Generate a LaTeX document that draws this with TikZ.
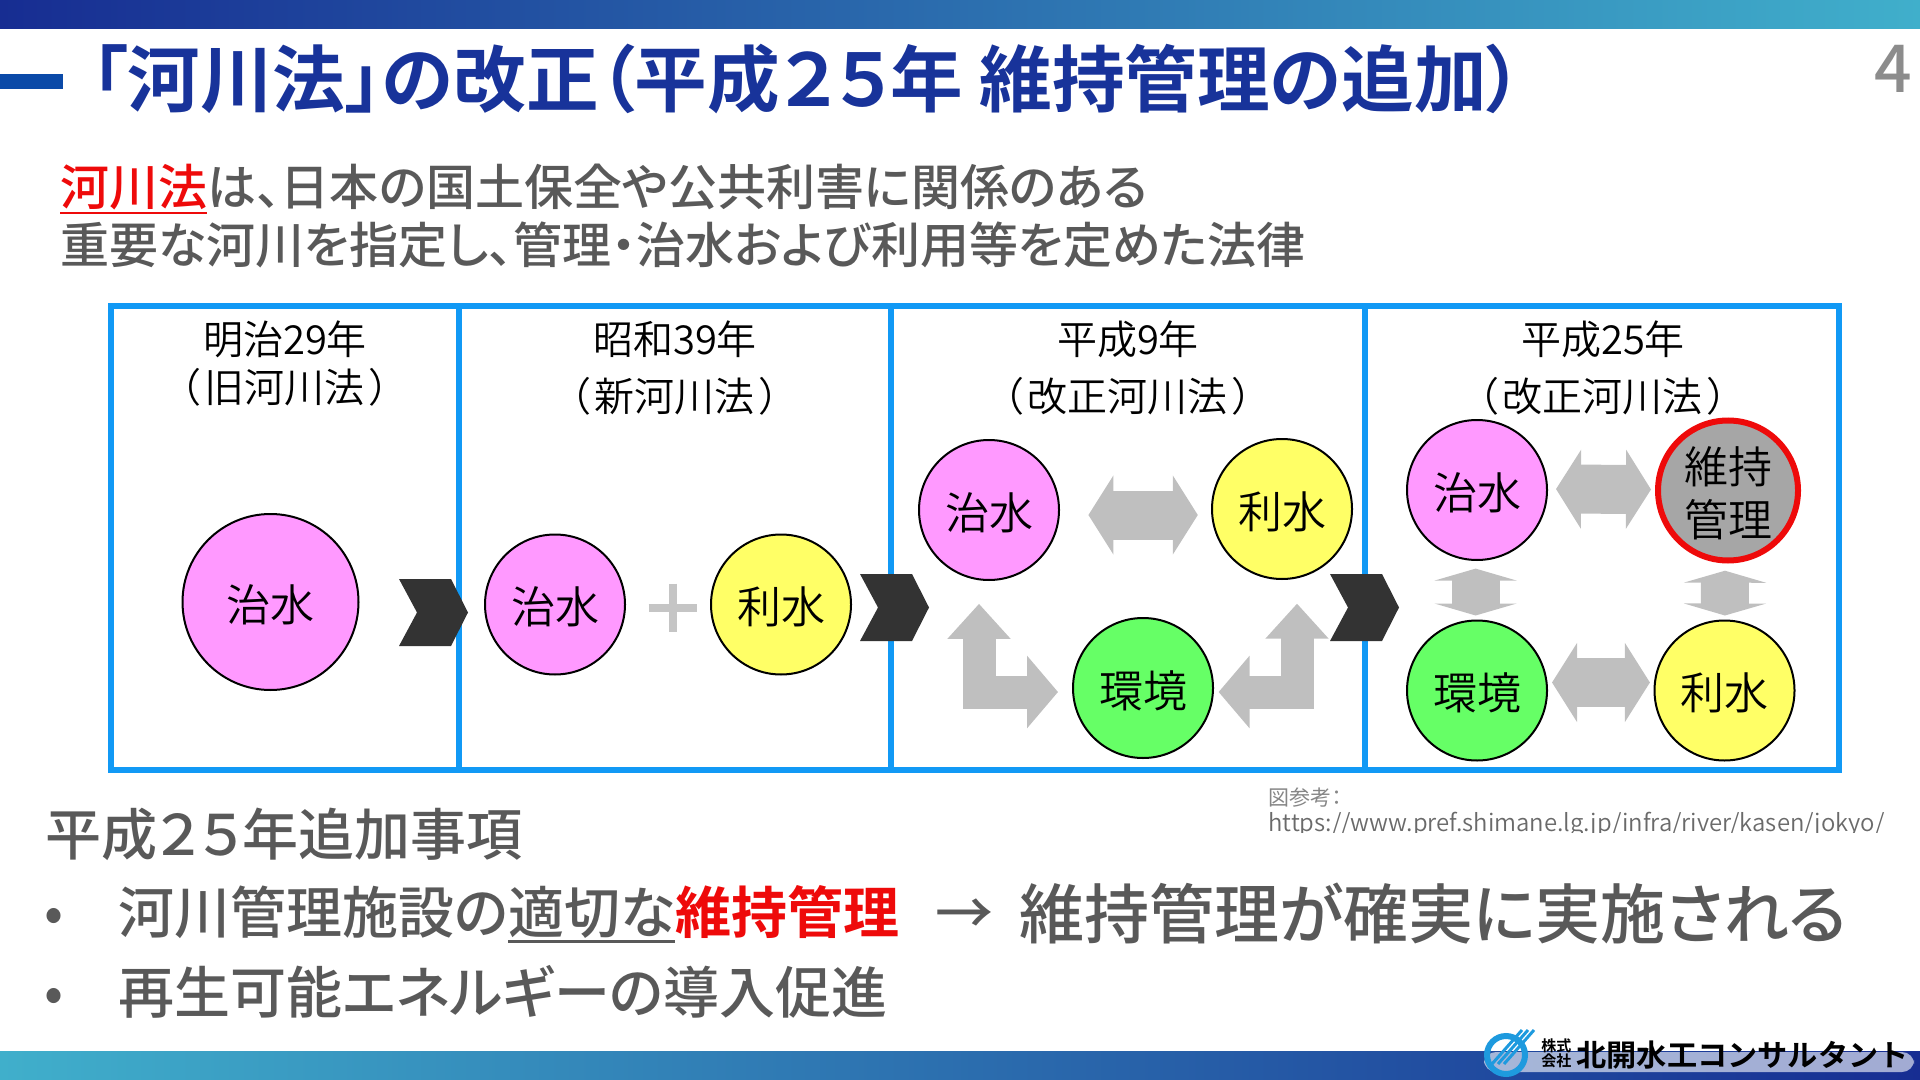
\documentclass[tikz,border=0pt]{standalone}
\usepackage{fontspec}
\setmainfont{Noto Sans CJK JP}[RawFeature={+palt},BoldFont={Noto Sans CJK JP Bold}]
\newfontfamily\jpmed{Noto Sans CJK JP Medium}[RawFeature={+palt},BoldFont={Noto Sans CJK JP Bold}]
\newfontfamily\jpthin{Noto Sans CJK JP DemiLight}[RawFeature={+palt}]
\newfontfamily\jpwide{Noto Sans CJK JP Bold}
\usetikzlibrary{arrows.meta}
\newcommand{\fsz}[1]{\fontsize{#1}{#1}\selectfont}
\newcommand{\thickul}[1]{\setbox0\hbox{#1}\rlap{\rule[-0.17em]{\wd0}{1.2pt}}\box0}
\definecolor{bardark}{HTML}{172D92}
\definecolor{barmid}{HTML}{2E86B4}
\definecolor{barteal}{HTML}{40AFCB}
\definecolor{titleblue}{HTML}{18339A}
\definecolor{dashblue}{HTML}{0B4AA8}
\definecolor{textgray}{HTML}{595959}
\definecolor{framecyan}{HTML}{1199F5}
\definecolor{arrowgray}{HTML}{BFBFBF}
\definecolor{chevdark}{HTML}{333333}
\definecolor{redmark}{HTML}{EE0A0A}
\definecolor{logoblue}{HTML}{1E9ADE}
\tikzset{
	label/.style={inner sep=0, anchor=base west},
	titletext/.style={label, text=titleblue, font=\bfseries\fsz{36.3pt}},
	leadtext/.style={label, text=textgray, font=\jpmed\fsz{24.5pt}},
	headtext/.style={inner sep=0, anchor=base, font=\jpthin\fsz{20pt}},
	itemtext/.style={label, text=textgray, font=\jpmed\fsz{28pt}},
	ball/.style={circle, draw=black, line width=1pt, inner sep=0, minimum size=70pt, font=\jpthin\fsz{22pt}, align=center},
	low/.style={text height=22pt, text depth=2.6pt},
	flood/.style={ball, low, fill={rgb,255:red,255;green,153;blue,255}},
	water/.style={ball, low, fill={rgb,255:red,255;green,255;blue,102}},
	nature/.style={ball, low, fill={rgb,255:red,102;green,255;blue,102}},
	upkeep/.style={ball, draw=redmark, line width=3pt, minimum size=70pt, fill={rgb,255:red,166;green,166;blue,166}, font=\jpthin\fontsize{22pt}{26.5pt}\selectfont},
	wideboth/.style={draw=arrowgray, line width=#1, line join=miter},
	blockh/.style={wideboth=24.5pt, {Triangle[length=12.5pt,width=39pt]}-{Triangle[length=12.5pt,width=39pt]}},
	blockv/.style={wideboth=24pt, {Triangle[length=6pt,width=41pt]}-{Triangle[length=6pt,width=41pt]}},
	blockl/.style={wideboth=16.5pt, {Triangle[length=17.5pt,width=30.5pt]}-{Triangle[length=15.5pt,width=35.5pt]}}
}

\begin{document}
\begin{tikzpicture}[x=0.5pt, y=-0.5pt]
	\useasboundingbox (0,0) rectangle (1920,1080);

	% Bars
	\shade[left color=bardark, middle color=barmid, right color=barteal] (0,0) rectangle (1920,29);
	\shade[left color=barteal, middle color=barmid, right color=bardark] (0,1051) rectangle (1920,1080);

	% Title
	\fill[dashblue] (0,74) rectangle (63,89);
	\node[titletext] (title) at (91,107) {「河川法」の改正（平成２５年 維持管理の追加）};
	\node[inner sep=0, anchor=base east, text=gray!90, font=\jpmed\fsz{33pt}] (pageno) at (1912,93) {4};

	% Lead text
	\node[leadtext] (leadone) at (60,206) {\textcolor{redmark}{\thickul{河川法}}は、日本の国土保全や公共利害に関係のある};
	\node[leadtext] (leadtwo) at (60,264) {重要な河川を指定し、管理・治水および利用等を定めた法律};

	% Frame
	\draw[framecyan, line width=3.4pt] (111,306) rectangle (1839,770);
	\foreach \xd in {459,891,1365}
		\draw[framecyan, line width=3.4pt] (\xd,306) -- (\xd,770);

	% Headings
	\node[headtext] (yearone) at (285,355) {明治29年};
	\node[headtext] (lawone) at (285,402) {（\hspace{.12em}旧河川法\hspace{.12em}）};
	\node[headtext] (yeartwo) at (675,355) {昭和39年};
	\node[headtext] (lawtwo) at (675,411) {（\hspace{.12em}新河川法\hspace{.12em}）};
	\node[headtext] (yearthree) at (1128,355) {平成9年};
	\node[headtext] (lawthree) at (1128,411) {（\hspace{.12em}改正河川法\hspace{.12em}）};
	\node[headtext] (yearfour) at (1603,355) {平成25年};
	\node[headtext] (lawfour) at (1603,411) {（\hspace{.12em}改正河川法\hspace{.12em}）};

	% Balls
	\node[flood, minimum size=88pt] (fa) at (270.5,602) {治水};
	\node[flood] (fb) at (555,604.5) {治水};
	\node[water] (wb) at (781,604.5) {利水};
	\node[flood] (fc) at (989,510) {治水};
	\node[water] (wc) at (1282,509) {利水};
	\node[nature] (nc) at (1143,688) {環境};
	\node[flood] (fd) at (1477,490) {治水};
	\node[upkeep] (ud) at (1728,490.5) {\rule{0pt}{21pt}維持\\管理};
	\node[nature] (nd) at (1477,690.5) {環境};
	\node[water] (wd) at (1724.5,690.5) {利水};

	% Plus
	\draw[arrowgray!90!white, line width=4pt] (648.5,607.5) -- (697,607.5) (672.5,583.5) -- (672.5,632);

	% Arrows
	\draw[blockh, shorten <=14.2pt, shorten >=6.6pt] ([yshift=-2.5pt]fc.east) -- ([yshift=-3pt]wc.west);
	\draw[blockl, shorten <=11.4pt, shorten >=7pt] ([xshift=-5pt]fc.south) |- ([yshift=-2pt]nc.west);
	\draw[blockl, shorten <=11.8pt, shorten >=2.3pt] ([xshift=7.5pt]wc.south) |- ([yshift=-2pt]nc.east);
	\draw[blockh, shorten <=4pt, shorten >=2pt] ([yshift=0.5pt]fd.east) -- ([yshift=0.5pt]ud.west);
	\draw[blockh, shorten <=2pt, shorten >=1.8pt] ([yshift=4pt]nd.east) -- ([yshift=4pt]wd.west);
	\draw[blockv, shorten <=3.8pt, shorten >=2pt] ([xshift=-0.7pt]fd.south) -- ([xshift=-0.7pt]nd.north);
	\draw[blockv, shorten <=3.6pt, shorten >=2pt] ([xshift=-1.5pt]ud.south) -- ([xshift=0.2pt]wd.north);

	% Chevrons
	\foreach \cx/\cy in {399/579, 860/574, 1330/574}
		\fill[chevdark] (\cx,\cy) -- ++(52,0) -- ++(17,33.5) -- ++(-17,33.5) -- ++(-52,0) -- ++(18,-33.5) -- cycle;

	% Source
	\node[label, text=gray!95, font=\fsz{10.5pt}] (srcone) at (1268,805) {図参考：};
	\begin{scope}
		\clip (1260,805) rectangle (1900,832);
		\node[label, text=textgray!90, font=\jpthin\fsz{11.95pt}] (srctwo) at (1268,831) {https://www.pref.shimane.lg.jp/infra/river/kasen/jokyo/};
	\end{scope}

	% Additions
	\node[itemtext] (addhead) at (45,855) {平成２５年追加事項};
	\node[inner sep=0, text=textgray, font=\fsz{28pt}] (bulone) at (54.5,920) {•};
	\node[itemtext] (itemone) at (118,933) {河川管理施設の\thickul{適切な}\textcolor{redmark}{\bfseries 維持管理}};
	\node[inner sep=0, text=textgray, font=\jpmed\fsz{29pt}] (arrowsign) at (964,917) {→};
	\node[label, text=textgray, font=\jpmed\fsz{32.5pt}] (result) at (1019,938) {維持管理が確実に実施される};
	\node[inner sep=0, text=textgray, font=\fsz{28pt}] (bultwo) at (54.5,1000) {•};
	\node[itemtext] (itemtwo) at (118,1013) {再生可能エネルギーの導入促進};

	% Logo
	\fill[white, opacity=0.6, rounded corners=6pt] (1484,1052) rectangle (1914,1072);
	\draw[logoblue, line width=3pt] (1506,1055) circle (19);
	\foreach \dx in {0,6,12}
		\draw[logoblue, line width=1.5pt] (1492+\dx,1064) -- (1522+\dx,1030);
	\node[label, font=\jpwide\fsz{7.5pt}] (logoa) at (1541,1051) {株式};
	\node[label, font=\jpwide\fsz{7.5pt}] (logob) at (1541,1066) {会社};
	\node[label, font=\jpwide\fsz{15.1pt}] (logoname) at (1576,1066) {北開水工コンサルタント};
\end{tikzpicture}
\end{document}
